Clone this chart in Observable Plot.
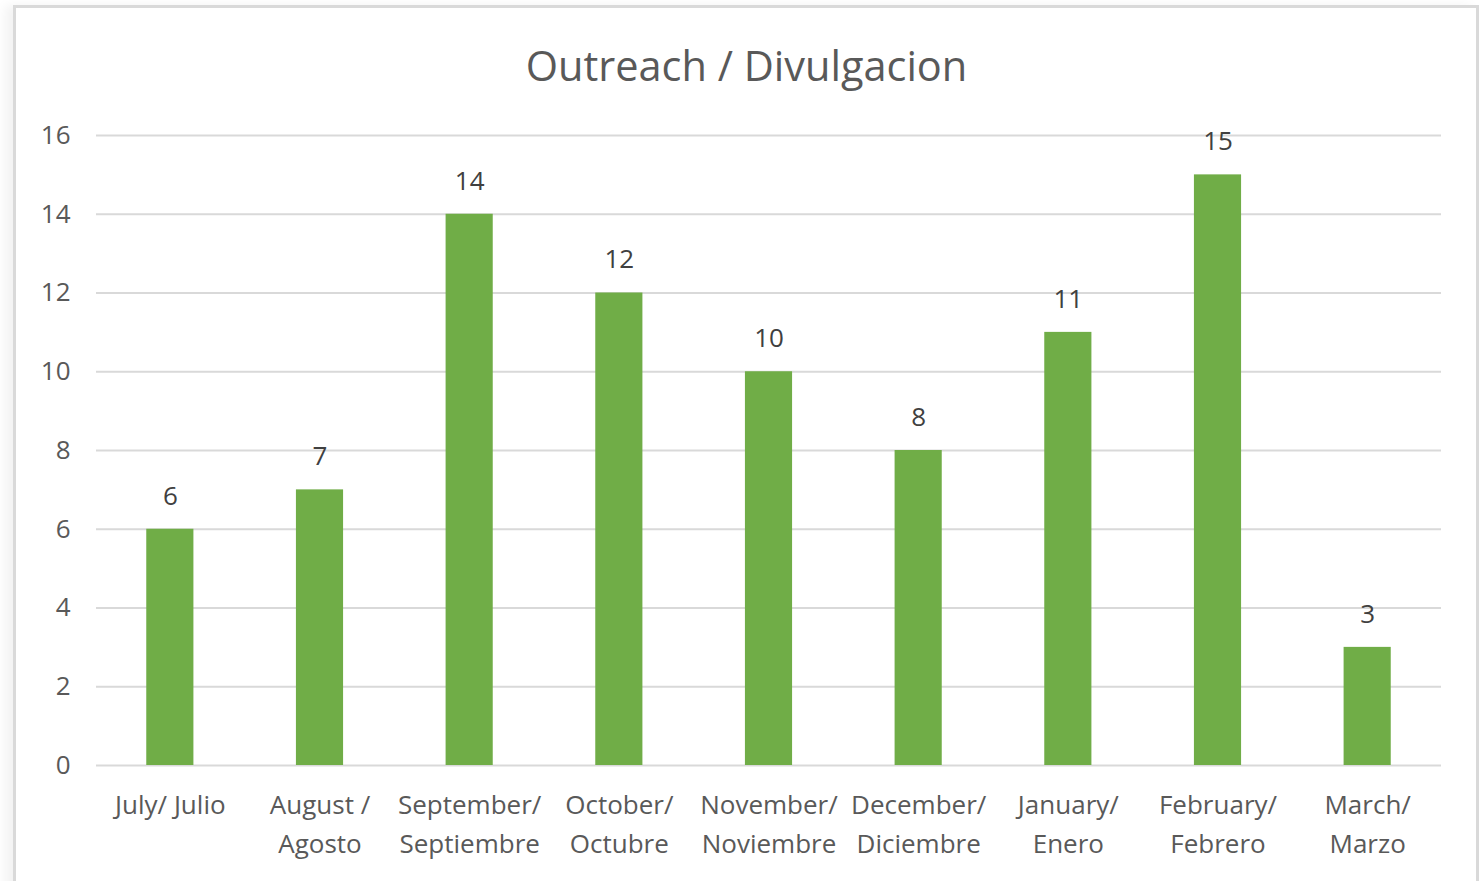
<!DOCTYPE html>
<html>
<head>
<meta charset="utf-8">
<script src="https://cdn.jsdelivr.net/npm/d3@7"></script>
<script src="https://cdn.jsdelivr.net/npm/@observablehq/plot@0.6"></script>
<style>
  html, body { margin: 0; padding: 0; background: #fff; width: 1481px; height: 881px; overflow: hidden; }
  #frame { position: absolute; left: 13px; top: 5px; width: 1460px; height: 920px; border: 3px solid #d9d9d9; background: #fff; box-shadow: -8px 0 10px rgba(0,0,0,0.05); }
  #title { position: absolute; left: 6px; top: 40px; width: 1481px; text-align: center; font-family: "Open Sans", sans-serif; font-size: 41.5px; color: #595959; line-height: 50px; }
  #chart { position: absolute; left: 0; top: 100px; }
</style>
</head>
<body>
<div id="frame"></div>
<div id="title">Outreach / Divulgacion</div>
<div id="chart"></div>
<script>
const months = ["Jul", "Aug", "Sep", "Oct", "Nov", "Dec", "Jan", "Feb", "Mar"];
const monthLabels = ["July/ Julio", "August /\nAgosto", "September/\nSeptiembre", "October/\nOctubre", "November/\nNoviembre", "December/\nDiciembre", "January/\nEnero", "February/\nFebrero", "March/\nMarzo"];
const values = [6, 7, 14, 12, 10, 8, 11, 15, 3];
const yTicks = [0, 2, 4, 6, 8, 10, 12, 14, 16];

const data = months.map((m, i) => ({month: m, label: monthLabels[i], value: values[i]}));
const labelOf = new Map(months.map((m, i) => [m, monthLabels[i]]));

const chart = Plot.plot({
  width: 1481,
  height: 781,
  marginLeft: 96,
  marginRight: 40,
  marginTop: 35,
  marginBottom: 116,
  style: {fontFamily: "'Open Sans', sans-serif", background: "transparent", overflow: "visible"},
  x: {domain: months, range: [95, 1442], round: false, paddingInner: 0.685, paddingOuter: 0.3425, label: null},
  y: {domain: [0, 16], label: null},
  marks: [
    Plot.gridY(yTicks, {stroke: "#d9d9d9", strokeOpacity: 1, strokeWidth: 2}),
    Plot.barY(data, {x: "month", y: "value", fill: "#70ad47"}),
    Plot.text(data, {x: "month", y: "value", text: d => String(d.value), dy: -33, lineAnchor: "middle", fontSize: 26, fill: "#404040"}),
    Plot.axisY(yTicks, {tickSize: 0, tickPadding: 26, fontSize: 26, fill: "#595959", label: null}),
    Plot.axisX({tickSize: 0, tickPadding: 21, fontSize: 26, fill: "#595959", lineHeight: 1.5, tickFormat: m => labelOf.get(m), label: null})
  ]
});
document.getElementById("chart").appendChild(chart);
</script>
</body>
</html>
